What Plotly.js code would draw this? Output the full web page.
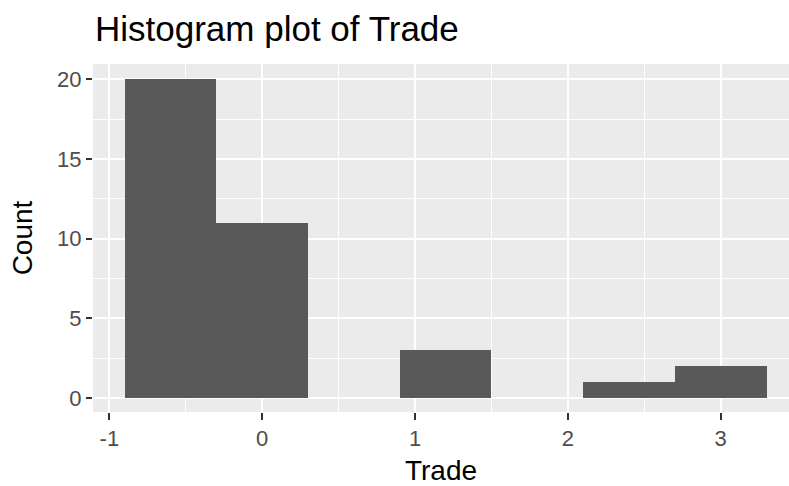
<!DOCTYPE html>
<html><head><meta charset="utf-8">
<script src="https://cdn.plot.ly/plotly-3.0.1.min.js"></script>
<style>html,body{margin:0;padding:0;background:#fff}</style>
</head><body><div id="chart" style="width:789px;height:486px"></div>
<script>
// Histogram bins (left edges), bin width and counts
const binStart = [-0.9, -0.3, 0.3, 0.9, 1.5, 2.1, 2.7];
const binWidth = 0.6;
const counts = [20, 11, 0, 3, 0, 1, 2];
const xTickVals = [-1, 0, 1, 2, 3];
const xTickText = ["-1", "0", "1", "2", "3"];
const yTickVals = [0, 5, 10, 15, 20];
const yTickText = ["0", "5", "10", "15", "20"];

const FONT = "Liberation Sans, Arial, sans-serif";

const trace = {
  type: "bar",
  x: binStart,
  y: counts,
  width: binStart.map(() => binWidth),
  offset: 0,
  marker: { color: "#595959", line: { width: 0 } },
  hoverinfo: "x+y"
};

const layout = {
  width: 789, height: 486,
  margin: { l: 93, r: 0, t: 64, b: 74, pad: 0 },
  paper_bgcolor: "#ffffff",
  plot_bgcolor: "#EBEBEB",
  showlegend: false,
  bargap: 0,
  title: {
    text: "Histogram plot of Trade",
    font: { family: FONT, size: 35, color: "#000000" },
    xref: "container", yref: "container",
    x: 95 / 789, xanchor: "left",
    y: 1 - 29 / 486, yanchor: "middle"
  },
  xaxis: {
    range: [-1.107, 3.447],
    tickmode: "array", tickvals: xTickVals, ticktext: xTickText,
    ticks: "outside", ticklen: 7, tickwidth: 2, tickcolor: "#333333",
    tickfont: { family: FONT, size: 22, color: "#4D4D4D" },
    showgrid: true, gridcolor: "#FFFFFF", gridwidth: 2.2,
    minor: { dtick: 0.5, tick0: -0.5, showgrid: true, gridcolor: "#FFFFFF", gridwidth: 1.1, ticks: "" },
    zeroline: false, showline: false,
    title: { text: "Trade", font: { family: FONT, size: 28, color: "#000000" }, standoff: 9 },
    fixedrange: true
  },
  yaxis: {
    range: [-0.88, 20.96],
    tickmode: "array", tickvals: yTickVals, ticktext: yTickText,
    ticks: "outside", ticklen: 6, tickwidth: 2, tickcolor: "#333333",
    tickfont: { family: FONT, size: 22, color: "#4D4D4D" },
    showgrid: true, gridcolor: "#FFFFFF", gridwidth: 2.2,
    minor: { dtick: 2.5, tick0: 2.5, showgrid: true, gridcolor: "#FFFFFF", gridwidth: 1.1, ticks: "" },
    zeroline: false, showline: false,
    title: { text: "Count", font: { family: FONT, size: 28, color: "#000000" }, standoff: 16 },
    fixedrange: true
  }
};

Plotly.newPlot("chart", [trace], layout, { displayModeBar: false, staticPlot: true });
</script>
</body></html>
